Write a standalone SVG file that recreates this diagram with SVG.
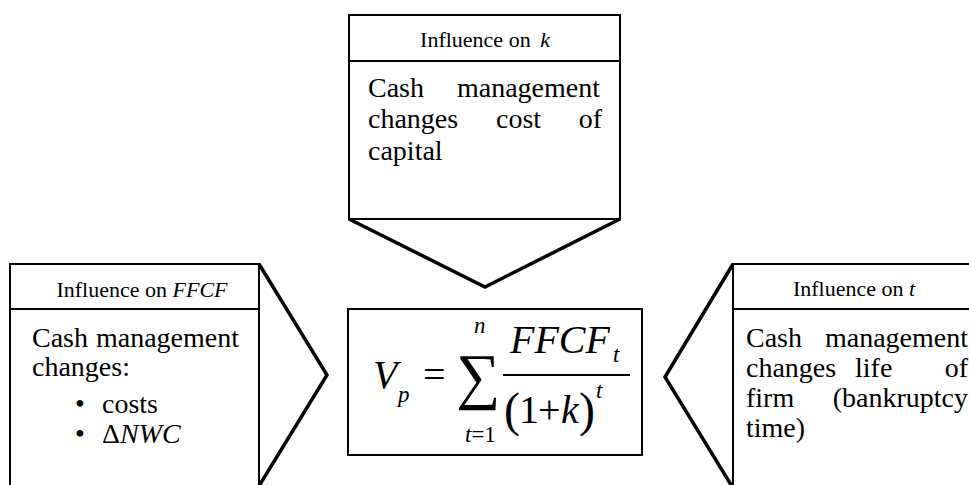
<svg xmlns="http://www.w3.org/2000/svg" width="969" height="485" viewBox="0 0 969 485">
<style>
text{font-family:"Liberation Serif","Times New Roman",serif;fill:#000}
.hd{font-size:22px}
.bd{font-size:28px}
.i{font-style:italic}
.box{fill:none;stroke:#000;stroke-width:2}
.chev{fill:none;stroke:#000;stroke-width:3.5;stroke-linejoin:miter}
.m{font-size:40px}
.ms{font-size:23px}
</style>
<rect width="969" height="485" fill="#fff"/>
<g id="connectors">
<path class="chev" d="M349,219 L485,287 L620,219"/>
<path class="chev" d="M259,264 L327,375 L259,486"/>
<path class="chev" d="M733,264 L665,377 L733,488"/>
</g>
<g id="node-k">
<rect class="box" x="349" y="15" width="271" height="204"/>
<line class="box" x1="349" y1="61" x2="620" y2="61"/>
<text class="hd" x="485" y="47" text-anchor="middle">Influence on <tspan class="i" dx="4">k</tspan></text>
<text class="bd" x="368" y="97">Cash</text>
<text class="bd" x="600" y="97" text-anchor="end">management</text>
<text class="bd" x="368" y="128">changes</text>
<text class="bd" x="496" y="128">cost</text>
<text class="bd" x="602" y="128" text-anchor="end">of</text>
<text class="bd" x="368" y="160">capital</text>
</g>
<g id="node-ffcf">
<path class="box" d="M10,487 V264 H259 V487"/>
<line class="box" x1="10" y1="309" x2="259" y2="309"/>
<text class="hd" x="142" y="297" text-anchor="middle">Influence on <tspan class="i">FFCF</tspan></text>
<text class="bd" x="32" y="347">Cash</text>
<text class="bd" x="239" y="347" text-anchor="end">management</text>
<text class="bd" x="32" y="376">changes:</text>
<text class="bd" x="80" y="413" text-anchor="middle">•</text>
<text class="bd" x="102" y="413">costs</text>
<text class="bd" x="80" y="443" text-anchor="middle">•</text>
<text class="bd" x="102" y="443">Δ<tspan class="i">NWC</tspan></text>
</g>
<g id="node-t">
<path class="box" d="M975,264 H733 V487"/>
<line class="box" x1="733" y1="309" x2="975" y2="309"/>
<text class="hd" x="854" y="296" text-anchor="middle">Influence on <tspan class="i">t</tspan></text>
<text class="bd" x="746" y="347">Cash</text>
<text class="bd" x="968" y="347" text-anchor="end">management</text>
<text class="bd" x="746" y="377">changes</text>
<text class="bd" x="855" y="377">life</text>
<text class="bd" x="968" y="377" text-anchor="end">of</text>
<text class="bd" x="746" y="407">firm</text>
<text class="bd" x="968" y="407" text-anchor="end">(bankruptcy</text>
<text class="bd" x="746" y="437">time)</text>
</g>
<g id="node-formula">
<rect class="box" x="348" y="309" width="294" height="146"/>
<text class="m i" x="373" y="388">V</text>
<text class="ms i" x="398" y="402">p</text>
<text class="m" x="423" y="388">=</text>
<text x="456" y="397" style="font-size:62px">∑</text>
<text class="ms i" x="474" y="333">n</text>
<text class="ms" x="465" y="442"><tspan class="i">t</tspan>=1</text>
<text class="m i" x="510" y="353">FFCF</text>
<text class="ms i" x="613" y="362">t</text>
<line x1="503" y1="375" x2="630" y2="375" stroke="#000" stroke-width="2"/>
<text x="504" y="426" style="font-size:48px">(</text>
<text class="m" x="519" y="423">1</text>
<text class="m" x="538" y="423">+</text>
<text class="m i" x="561" y="423">k</text>
<text x="579" y="426" style="font-size:48px">)</text>
<text class="ms i" x="596" y="398">t</text>
</g>
</svg>
